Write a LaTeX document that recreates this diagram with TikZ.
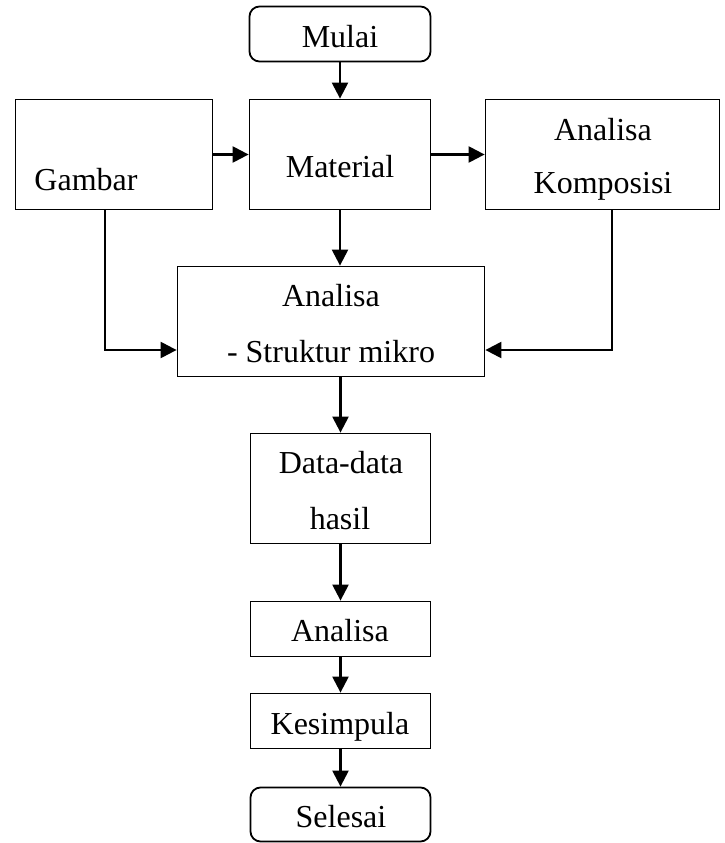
\documentclass[tikz,border=0pt]{standalone}
\usepackage{fontspec}
\setmainfont{Liberation Serif}
\usetikzlibrary{arrows.meta}
\begin{document}
\begin{tikzpicture}[x=1pt,y=-1pt,
  boxshape/.style={draw,line width=1.8pt,inner sep=0pt},
  rbox/.style={boxshape,rounded corners=10pt},
  txt/.style={inner sep=0pt,anchor=base,font=\fontsize{32}{38}\selectfont},
  arr/.style={line width=2.3pt,-{Triangle[length=16pt,width=16pt]}}]
\useasboundingbox (0,0) rectangle (725,843);
% boxes
\node[rbox,minimum width=181pt,minimum height=55pt] (mulai) at (340,34) {};
\node[boxshape,minimum width=181pt,minimum height=110pt] (material) at (340,154.5) {};
\node[boxshape,minimum width=197pt,minimum height=110pt] (gambar) at (114,154.5) {};
\node[boxshape,minimum width=234pt,minimum height=110pt] (kompos) at (602.5,154.5) {};
\node[boxshape,minimum width=307pt,minimum height=110pt] (analisa1) at (331,321.5) {};
\node[boxshape,minimum width=180pt,minimum height=110pt] (data) at (340.5,488.5) {};
\node[boxshape,minimum width=180pt,minimum height=55pt] (analisa2) at (340.5,629) {};
\node[boxshape,minimum width=180pt,minimum height=55pt] (kesimpula) at (340.5,721) {};
\node[rbox,minimum width=180pt,minimum height=54pt] (selesai) at (340.5,814.5) {};
% texts
\node[txt] (tmulai) at (340,48) {Mulai};
\node[txt] (tmaterial) at (340,177) {Material};
\node[txt] (tgambar) at (86,190) {Gambar};
\node[txt] (tkompos1) at (603,140) {Analisa};
\node[txt] (tkompos2) at (603,193) {Komposisi};
\node[txt] (tanalisa1a) at (331,306) {Analisa};
\node[txt] (tanalisa1b) at (331,362) {- Struktur mikro};
\node[txt] (tdata1) at (341,473) {Data-data};
\node[txt] (tdata2) at (340,529) {hasil};
\node[txt] (tanalisa2) at (340,641) {Analisa};
\node[txt] (tkes) at (340,734) {Kesimpula};
\node[txt] (tsel) at (341,827) {Selesai};
% connectors
\draw[arr] (mulai.south) -- (material.north);
\draw[arr] (gambar.east) -- (material.west);
\draw[arr] (material.east) -- (kompos.west);
\draw[arr] (material.south) -- (material.south |- analisa1.north);
\draw[arr] ([xshift=-9pt]gambar.south) |- ([yshift=-28.5pt]analisa1.west);
\draw[arr] ([xshift=9.5pt]kompos.south) |- ([yshift=-28.5pt]analisa1.east);
\draw[arr] (analisa1.south -| data.north) -- (data.north);
\draw[arr] (data.south) -- (analisa2.north);
\draw[arr] (analisa2.south) -- (kesimpula.north);
\draw[arr] (kesimpula.south) -- (selesai.north);
\end{tikzpicture}
\end{document}
